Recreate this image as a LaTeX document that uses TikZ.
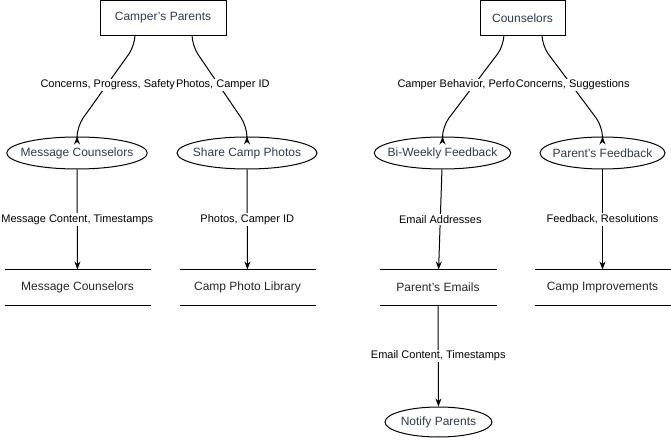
\documentclass[tikz,border=0pt]{standalone}
\usepackage{fontspec}
\setmainfont{Liberation Sans}
\usetikzlibrary{shapes.geometric, arrows.meta}

\definecolor{nodetext}{HTML}{2F3A4A}

\tikzset{
  entity/.style={draw, rectangle, inner sep=0pt, text=nodetext, font=\fontsize{9}{11}\selectfont},
  process/.style={draw, ellipse, inner xsep=-5pt, inner ysep=0pt, minimum height=24pt, text=nodetext, font=\fontsize{9}{11}\selectfont},
  datastore/.style={rectangle, inner sep=0pt, minimum height=26.25pt, text=black!85, font=\fontsize{9}{11}\selectfont},
  flowlabel/.style={fill=white, inner sep=1pt, font=\fontsize{8.25}{10}\selectfont}
}

\begin{document}
\begin{tikzpicture}[x=0.75pt, y=-0.75pt, line width=0.75pt, >={Stealth[length=6pt, width=4.5pt]}]
        \useasboundingbox (0,0) rectangle (671,441);

        % external entities
        \node[entity, minimum width=94.5pt, minimum height=25.9pt] (parents) at (163,17.75) {Camper's Parents};
        \node[entity, minimum width=63.75pt, minimum height=25.9pt] (counselors) at (522.5,17.75) {Counselors};

        % processes
        \node[process, minimum width=105pt] (msgproc) at (77,153) {Message Counselors};
        \node[process, minimum width=105pt] (photoproc) at (247,153) {Share Camp Photos};
        \node[process, minimum width=101.25pt] (biweekly) at (442.5,153) {Bi-Weekly Feedback};
        \node[process, minimum width=93.75pt] (pfeedback) at (602.5,153) {Parent's Feedback};
        \node[process, minimum width=80.25pt, minimum height=22.5pt] (notify) at (438.5,422) {Notify Parents};

        % data stores
        \node[datastore, minimum width=108.75pt] (msgstore) at (77.5,287.5) {Message Counselors};
        \node[datastore, minimum width=101.25pt] (photolib) at (247.5,287.5) {Camp Photo Library};
        \node[datastore, minimum width=87pt] (emails) at (438,287.5) {Parent's Emails};
        \node[datastore, minimum width=101.25pt] (improve) at (602.5,287.5) {Camp Improvements};
        \foreach \s in {msgstore, photolib, emails, improve}
          \draw (\s.north west) -- (\s.north east) (\s.south west) -- (\s.south east);

        % flows from the entities
        \draw[->, rounded corners=8pt] ([xshift=-21pt]parents.south) -- ++(0,10) -- ([yshift=7.5pt]msgproc.north) -- (msgproc.north);
        \draw[->, rounded corners=8pt] ([xshift=21.75pt]parents.south) -- ++(0,10) -- ([yshift=7.5pt]photoproc.north) -- (photoproc.north);
        \draw[->, rounded corners=8pt] ([xshift=-13.9pt]counselors.south) -- ++(0,10) -- ([yshift=7.5pt]biweekly.north) -- (biweekly.north);
        \draw[->, rounded corners=8pt] ([xshift=14.6pt]counselors.south) -- ++(0,10) -- ([yshift=7.5pt]pfeedback.north) -- (pfeedback.north);

        \node[flowlabel, anchor=west, inner xsep=0pt] (lblconcerns) at (40,85) {Concerns, Progress, Safety};
        \node[flowlabel, anchor=west, inner xsep=0pt] (lblphotos) at (lblconcerns.east) {Photos, Camper ID};
        \node[flowlabel, anchor=west, inner xsep=0pt] (lblbehavior) at (397,85) {Camper Behavior, Perfo};
        \node[flowlabel, anchor=west, inner xsep=0pt] (lblsuggest) at (lblbehavior.east) {Concerns, Suggestions};

        % flows into the stores
        \draw[->] (msgproc) -- (msgstore) node[flowlabel, midway] {Message Content, Timestamps};
        \draw[->] (photoproc) -- (photolib) node[flowlabel, midway] {Photos, Camper ID};
        \draw[->] (biweekly) -- (emails) node[flowlabel, midway] {Email Addresses};
        \draw[->] (pfeedback) -- (improve) node[flowlabel, midway] {Feedback, Resolutions};
        \draw[->] (emails) -- (notify) node[flowlabel, midway] {Email Content, Timestamps};
\end{tikzpicture}
\end{document}
